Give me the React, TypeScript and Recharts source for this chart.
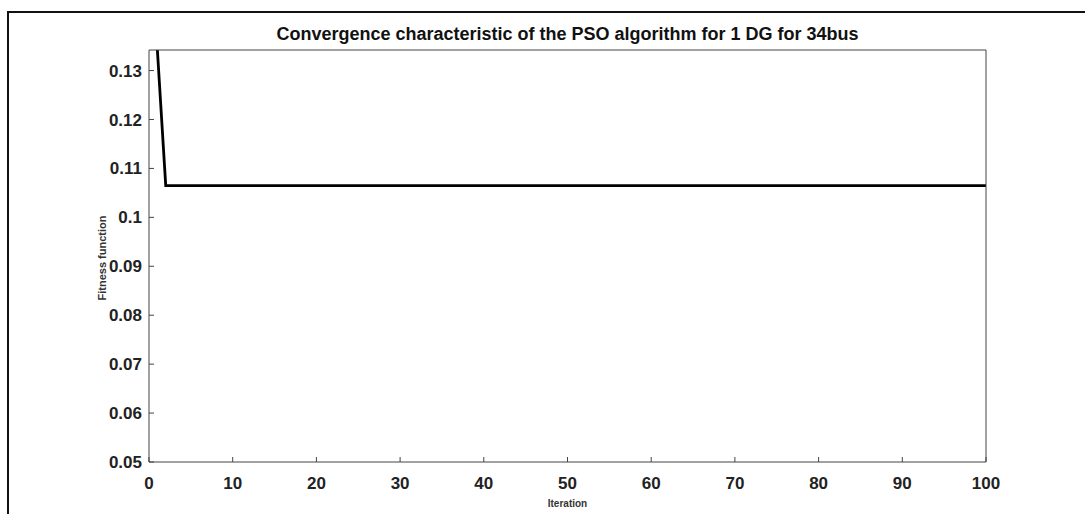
import { CartesianGrid, Line, LineChart, XAxis, YAxis } from "recharts";

// PSO convergence (1 DG, 34 bus): value drops after the 1st iteration, then stays flat
const iterations = [1, 2, 100];
const fitness = [0.1342, 0.1065, 0.1065];

const xTicks = [0, 10, 20, 30, 40, 50, 60, 70, 80, 90, 100];
const yTicks = [0.05, 0.06, 0.07, 0.08, 0.09, 0.1, 0.11, 0.12, 0.13];

const data = iterations.map((it, i) => ({ it, fit: fitness[i] }));

const font = "'Liberation Sans', Arial, sans-serif";
const axisColor = "#444";
const fmt = (v: number) => String(+v.toFixed(2));

export default function App() {
  return (
    <div
      style={{
        position: "absolute",
        left: 0,
        top: 0,
        width: 1085,
        height: 514,
        overflow: "hidden",
        background: "#fff",
        fontFamily: font
      }}
    >
      <div
        style={{
          position: "absolute",
          left: 7,
          top: 11,
          width: 1200,
          height: 600,
          borderLeft: "2px solid #111",
          borderTop: "2px solid #111"
        }}
      />
      <LineChart
        width={1085}
        height={514}
        data={data}
        margin={{ top: 50, right: 99, bottom: 12, left: 89 }}
        style={{ position: "absolute", left: 0, top: 0 }}
      >
        <CartesianGrid horizontal={false} vertical={false} />
        <XAxis
          dataKey="it"
          type="number"
          domain={[0, 100]}
          ticks={xTicks}
          height={40}
          interval={0}
          tickSize={-5}
          tickMargin={20}
          stroke={axisColor}
          tick={{ fill: "#222", fontSize: 17, fontWeight: 700, fontFamily: font }}
        />
        <XAxis
          xAxisId="top"
          dataKey="it"
          type="number"
          orientation="top"
          mirror
          domain={[0, 100]}
          ticks={xTicks}
          interval={0}
          tick={false}
          tickSize={5}
          stroke={axisColor}
        />
        <YAxis
          type="number"
          domain={[0.05, 0.1342]}
          allowDataOverflow
          ticks={yTicks}
          interval={0}
          width={60}
          tickSize={-5}
          tickMargin={12}
          tickFormatter={fmt}
          stroke={axisColor}
          tick={{ fill: "#222", fontSize: 17, fontWeight: 700, fontFamily: font }}
        />
        <YAxis
          yAxisId="right"
          type="number"
          orientation="right"
          mirror
          domain={[0.05, 0.1342]}
          allowDataOverflow
          ticks={yTicks}
          interval={0}
          tick={false}
          tickSize={5}
          stroke={axisColor}
        />
        <Line
          type="linear"
          dataKey="fit"
          stroke="#000"
          strokeWidth={2.8}
          dot={false}
          isAnimationActive={false}
        />
      </LineChart>
      <svg
        width={1085}
        height={514}
        style={{ position: "absolute", left: 0, top: 0, pointerEvents: "none" }}
      >
        <text x={567.5} y={40} textAnchor="middle" fontSize={18} fontWeight={700} fontFamily={font} fill="#111">
          Convergence characteristic of the PSO algorithm for 1 DG for 34bus
        </text>
        <text x={567.5} y={507} textAnchor="middle" fontSize={10} fontWeight={700} fontFamily={font} fill="#333">
          Iteration
        </text>
        <text
          x={106}
          y={258}
          textAnchor="middle"
          fontSize={11}
          fontWeight={700}
          fontFamily={font}
          fill="#333"
          transform="rotate(-90 106 258)"
        >
          Fitness function
        </text>
      </svg>
    </div>
  );
}
